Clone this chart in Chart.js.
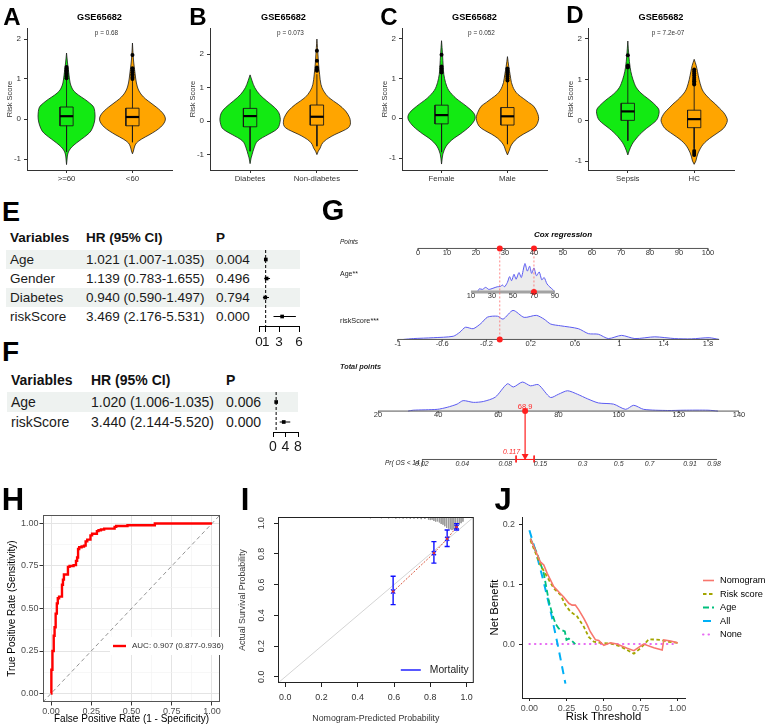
<!DOCTYPE html>
<html><head><meta charset="utf-8">
<title>Risk score figure</title>
<script src="https://cdn.jsdelivr.net/npm/chart.js@4.4.1/dist/chart.umd.min.js"></script>
<style>
html,body{margin:0;padding:0;background:#fff}
body{width:767px;height:727px;position:relative;overflow:hidden;font-family:"Liberation Sans",Arial,Helvetica,sans-serif}
canvas{position:absolute;display:block}
.t{position:absolute;white-space:nowrap;line-height:1}
.sh{position:absolute;background:#eef2f0}
</style></head><body>
<script>
// ================= DATA =================
const violinTitle = 'GSE65682';
// Panel A
const aCats = ['>=60', '<60'];
const aP = 'p = 0.68';
const aShape1 = [[-1.14,0],[-1.0,0.008],[-0.9,0.015],[-0.8,0.035],[-0.7,0.08],[-0.6,0.15],[-0.5,0.23],[-0.4,0.31],[-0.3,0.37],[-0.15,0.41],[0,0.43],[0.15,0.43],[0.3,0.41],[0.4,0.35],[0.5,0.27],[0.6,0.18],[0.7,0.11],[0.8,0.075],[0.9,0.055],[1.0,0.045],[1.2,0.03],[1.4,0.015],[1.65,0]];
const aShape2 = [[-0.87,0],[-0.8,0.015],[-0.7,0.03],[-0.6,0.06],[-0.5,0.14],[-0.4,0.25],[-0.3,0.35],[-0.2,0.43],[-0.1,0.48],[0,0.5],[0.1,0.48],[0.2,0.43],[0.3,0.36],[0.4,0.28],[0.5,0.2],[0.6,0.14],[0.7,0.1],[0.8,0.075],[0.9,0.06],[1.0,0.05],[1.2,0.035],[1.4,0.02],[1.6,0.01],[1.9,0]];
const aBox1 = [-0.82,-0.17,0.07,0.30,0.98];   // lower whisker, Q1, median, Q3, upper whisker
const aBox2 = [-0.58,-0.17,0.05,0.27,0.98];
const aOut1 = [1.02,1.06,1.1,1.14,1.18,1.22,1.26,1.3];
const aOut2 = [1.0,1.04,1.08,1.12,1.17,1.22,1.27,1.6];
// Panel B
const bCats = ['Diabetes', 'Non-diabetes'];
const bP = 'p = 0.073';
const bShape1 = [[-1.27,0],[-1.1,0.015],[-1.0,0.03],[-0.8,0.06],[-0.6,0.11],[-0.4,0.27],[-0.3,0.36],[-0.2,0.42],[0,0.45],[0.1,0.45],[0.25,0.43],[0.4,0.37],[0.6,0.25],[0.8,0.14],[1.0,0.07],[1.2,0.03],[1.38,0]];
const bShape2 = [[-1.0,0],[-0.9,0.02],[-0.8,0.05],[-0.7,0.07],[-0.6,0.11],[-0.5,0.18],[-0.4,0.27],[-0.3,0.38],[-0.2,0.47],[-0.1,0.5],[0,0.5],[0.1,0.49],[0.3,0.43],[0.5,0.32],[0.7,0.18],[0.9,0.1],[1.1,0.06],[1.4,0.04],[1.7,0.025],[2.0,0.015],[2.2,0.008],[2.45,0]];
const bBox1 = [-0.9,-0.17,0.15,0.38,0.95];
const bBox2 = [-0.75,-0.12,0.13,0.48,1.4];
const bOut1 = [];
const bOut2 = [1.5,1.55,1.6,1.8,2.1];
// Panel C
const cCats = ['Female', 'Male'];
const cP = 'p = 0.052';
const cShape1 = [[-1.15,0],[-1.0,0.01],[-0.9,0.02],[-0.8,0.04],[-0.7,0.07],[-0.6,0.12],[-0.5,0.19],[-0.4,0.28],[-0.3,0.36],[-0.2,0.43],[-0.05,0.5],[0.05,0.51],[0.15,0.48],[0.3,0.38],[0.4,0.3],[0.5,0.22],[0.6,0.16],[0.7,0.11],[0.8,0.08],[0.9,0.06],[1.1,0.035],[1.3,0.025],[1.6,0.015],[1.95,0]];
const cShape2 = [[-0.92,0],[-0.8,0.03],[-0.7,0.05],[-0.6,0.09],[-0.5,0.15],[-0.4,0.24],[-0.3,0.35],[-0.2,0.43],[-0.05,0.47],[0.05,0.47],[0.15,0.45],[0.3,0.4],[0.4,0.32],[0.5,0.24],[0.6,0.16],[0.7,0.11],[0.8,0.08],[0.9,0.06],[1.1,0.04],[1.3,0.02],[1.55,0]];
const cBox1 = [-0.85,-0.14,0.08,0.33,1.12];
const cBox2 = [-0.65,-0.17,0.05,0.27,0.92];
const cOut1 = [1.15,1.2,1.25,1.3,1.6];
const cOut2 = [0.95,1.0,1.05,1.1,1.15,1.2,1.25];
// Panel D
const dCats = ['Sepsis', 'HC'];
const dP = 'p = 7.2e-07';
const dShape1 = [[-0.85,0],[-0.75,0.02],[-0.6,0.06],[-0.5,0.1],[-0.4,0.15],[-0.3,0.21],[-0.2,0.28],[-0.1,0.36],[0,0.43],[0.1,0.46],[0.25,0.47],[0.35,0.43],[0.5,0.33],[0.6,0.25],[0.7,0.18],[0.8,0.13],[0.9,0.1],[1.1,0.06],[1.3,0.035],[1.6,0.015],[1.95,0]];
const dShape2 = [[-1.08,0],[-1.0,0.025],[-0.9,0.04],[-0.8,0.06],[-0.7,0.09],[-0.6,0.13],[-0.5,0.19],[-0.4,0.27],[-0.3,0.36],[-0.2,0.44],[-0.1,0.48],[0,0.5],[0.1,0.48],[0.2,0.44],[0.3,0.38],[0.4,0.32],[0.5,0.25],[0.6,0.19],[0.7,0.14],[0.8,0.11],[1.0,0.075],[1.2,0.05],[1.35,0.03],[1.5,0]];
const dBox1 = [-0.5,0.0,0.22,0.42,1.25];
const dBox2 = [-0.7,-0.18,0.03,0.25,0.85];
const dOut1 = [1.3,1.32,1.35,1.6];
const dOut2 = [0.88,0.92,0.96,1.0,1.05,1.1,1.15,1.2,1.25,-0.75,-0.8,-0.85];
const violinYTicks = [-1, 0, 1, 2];

// Panel E (univariate Cox)
const eHeader = ['Variables', 'HR (95% CI)', 'P'];
const eVars = ['Age', 'Gender', 'Diabetes', 'riskScore'];
const eHR = [1.021, 1.139, 0.940, 3.469];
const eLo = [1.007, 0.783, 0.590, 2.176];
const eHi = [1.035, 1.655, 1.497, 5.531];
const eP = ['0.004', '0.496', '0.794', '0.000'];
const eTicks = [0, 1, 3, 6];
// Panel F (multivariate Cox)
const fVars = ['Age', 'riskScore'];
const fHR = [1.020, 3.440];
const fLo = [1.006, 2.144];
const fHi = [1.035, 5.520];
const fP = ['0.006', '0.000'];
const fTicks = [0, 4, 8];

// Panel G (nomogram)
const nomoTitle = 'Cox regression';
const nomoPointsTicks = [0,10,20,30,40,50,60,70,80,90,100];
const nomoAgeTicks = [10,30,50,70,90];
const nomoRiskTicks = [-1,-0.6,-0.2,0.2,0.6,1,1.4,1.8];
const nomoTotalTicks = [20,40,60,80,100,120,140];
const nomoPrTicks = ['0.02','0.04','0.08','0.15','0.3','0.5','0.7','0.91','0.98'];
const nomoPrPos = [34.6,48,62.3,74,88,100,110.3,123.7,131.7];  // total points of each probability tick
const ageDens = [[16,0],[18,0.11],[21,0.09],[24,0.16],[27,0.09],[31,0.13],[35,0.18],[38,0.19],[40,0.24],[42,0.18],[44.7,0.33],[46.8,0.53],[48.7,0.39],[51,0.61],[53,0.44],[55.7,0.67],[58,0.5],[61.4,0.98],[63.7,0.72],[65.9,0.89],[67.8,0.64],[70,0.83],[72.4,0.56],[75,0.69],[77.5,0.42],[79.7,0.5],[82.4,0.28],[85.2,0.17],[87.8,0.09],[90,0]];
const riskDens = [[-0.95,0],[-0.86,0.03],[-0.68,0.06],[-0.5,0.11],[-0.44,0.25],[-0.39,0.42],[-0.32,0.37],[-0.25,0.55],[-0.19,0.77],[-0.1,0.8],[-0.05,0.7],[0.04,1.0],[0.14,0.76],[0.25,0.83],[0.32,0.7],[0.38,0.53],[0.47,0.47],[0.63,0.37],[0.72,0.2],[0.81,0.18],[0.9,0.03],[1.02,0.14],[1.14,0.03],[1.32,0.09],[1.5,0.03],[1.65,0.02],[1.81,0.06],[1.9,0]];
const totalDens = [[30,0],[31.7,0.03],[39.7,0.06],[43,0.13],[46.3,0.24],[48.3,0.36],[51.7,0.3],[55,0.33],[59,0.48],[63,0.94],[65,0.83],[68,1.0],[70.7,0.87],[73.3,0.91],[77.3,0.47],[80,0.58],[83,0.7],[86.3,0.58],[89.7,0.42],[93.3,0.28],[98.3,0.24],[102.3,0.06],[105,0.2],[108.3,0.06],[116.3,0.02],[121.7,0.03],[129.7,0.03],[133,0]];
const patientAge = 70, patientAgePts = 40.0;
const patientRisk = -0.08, patientRiskPts = 28.2;
const patientTotal = 68.9;
const patientProb = '0.117';
const patientProbCI = [65.9, 71.9];  // total points of CI ends

// Panel H (ROC)
const rocFpr = [0,0.003,0.006,0.01,0.014,0.018,0.022,0.026,0.03,0.036,0.042,0.05,0.068,0.074,0.08,0.088,0.105,0.115,0.14,0.155,0.162,0.168,0.175,0.19,0.205,0.215,0.225,0.245,0.255,0.285,0.295,0.31,0.33,0.395,0.405,0.475,0.485,0.645,0.65,1.0];
const rocTpr = [0,0.08,0.14,0.2,0.25,0.3,0.34,0.39,0.45,0.47,0.53,0.56,0.57,0.64,0.67,0.7,0.7,0.745,0.75,0.755,0.78,0.8,0.85,0.86,0.865,0.87,0.895,0.905,0.93,0.94,0.955,0.96,0.965,0.97,0.98,0.985,0.99,0.99,1.0,1.0];
const rocLabel = 'AUC: 0.907 (0.877-0.936)';
const rocTicks = [0, 0.25, 0.5, 0.75, 1];

// Panel I (calibration)
const calPred = [0.595, 0.82, 0.893, 0.945];
const calObs  = [0.555, 0.805, 0.898, 0.975];
const calLo   = [0.47, 0.74, 0.848, 0.955];
const calHi   = [0.655, 0.88, 0.955, 0.997];
const calRugX = [0.39,0.41,0.43,0.45,0.47,0.49,0.51,0.53,0.55,0.57,0.59,0.61,0.63,0.65,0.67,0.69,0.71,0.73,0.75,0.77,0.79,0.8,0.81,0.82,0.83,0.84,0.85,0.86,0.87,0.88,0.89,0.9,0.91,0.92,0.93,0.94,0.95,0.96,0.97,0.98];
const calRugH = [0.006,0.004,0.006,0.005,0.008,0.006,0.006,0.008,0.006,0.009,0.007,0.01,0.008,0.01,0.009,0.012,0.01,0.012,0.014,0.012,0.016,0.02,0.018,0.025,0.03,0.028,0.035,0.045,0.05,0.06,0.07,0.075,0.08,0.085,0.08,0.075,0.065,0.05,0.04,0.03];
const calTicks = [0, 0.2, 0.4, 0.6, 0.8, 1.0];
const calLegend = 'Mortality';

// Panel J (decision curve)
const dcaLabels = ['Nomogram', 'Risk score', 'Age', 'All', 'None'];
const dcaNomoT = [0.007,0.074,0.097,0.12,0.142,0.164,0.21,0.23,0.266,0.288,0.31,0.333,0.367,0.39,0.41,0.446,0.468,0.502,0.547,0.59,0.66,0.705,0.77,0.84,0.896,0.907,0.953,1.0];
const dcaNomoNB = [0.176,0.137,0.132,0.118,0.107,0.096,0.084,0.079,0.068,0.065,0.065,0.057,0.043,0.032,0.021,0.007,0.006,-0.002,0.002,0,-0.007,-0.011,0,-0.006,-0.01,0.007,0.005,0.002];
const dcaRiskT = [0.007,0.074,0.12,0.164,0.21,0.243,0.277,0.322,0.367,0.4,0.435,0.48,0.547,0.615,0.705,0.75,0.806,0.885,0.93,1.0];
const dcaRiskNB = [0.173,0.132,0.112,0.093,0.082,0.065,0.054,0.046,0.029,0.012,0.004,0.002,0.001,-0.004,-0.016,-0.007,0.008,0.007,0.004,0.002];
const dcaAgeT = [0.007,0.052,0.097,0.13,0.153,0.176,0.198,0.22,0.239,0.25,0.266,0.288,0.31];
const dcaAgeNB = [0.176,0.151,0.118,0.073,0.051,0.034,0.026,0.023,0.021,0.007,0.009,0.005,0];
const dcaAllT = [0,0.05,0.1,0.15,0.2,0.243];
const dcaAllNB = [0.19,0.148,0.1,0.047,-0.012,-0.066];
const dcaNoneT = [0, 1];
const dcaNoneNB = [0, 0];
const dcaXTicks = [0, 0.25, 0.5, 0.75, 1];
const dcaYTicks = [0, 0.1, 0.2];

// ================= HELPERS =================
const FONT = '"Liberation Sans", Arial, Helvetica, sans-serif';
Chart.defaults.font.family = FONT;
Chart.defaults.animation = false;
Chart.defaults.events = [];
Chart.defaults.plugins.legend.display = false;
Chart.defaults.plugins.tooltip.enabled = false;

function mkChart(l, t, w, h, config) {
  const c = document.createElement('canvas');
  c.width = w; c.height = h;
  c.style.left = l + 'px'; c.style.top = t + 'px';
  c.style.width = w + 'px'; c.style.height = h + 'px';
  document.body.appendChild(c);
  config.options = Object.assign({responsive: false, maintainAspectRatio: false, animation: false, devicePixelRatio: 1}, config.options || {});
  return new Chart(c.getContext('2d'), config);
}
function txt(s, x, y, o) {
  o = o || {};
  const d = document.createElement('div');
  d.className = 't';
  d.textContent = s;
  d.style.left = x + 'px'; d.style.top = y + 'px';
  d.style.fontSize = (o.size || 10) + 'px';
  if (o.bold) d.style.fontWeight = 'bold';
  if (o.italic) d.style.fontStyle = 'italic';
  d.style.color = o.color || '#000';
  const ax = o.align === 'l' ? '0' : (o.align === 'r' ? '-100%' : '-50%');
  d.style.transform = 'translate(' + ax + ',-50%)';
  document.body.appendChild(d);
}
function rect(x, y, w, h) {
  const d = document.createElement('div');
  d.className = 'sh';
  d.style.left = x + 'px'; d.style.top = y + 'px'; d.style.width = w + 'px'; d.style.height = h + 'px';
  document.body.appendChild(d);
}
const tickList = arr => s => { s.ticks = arr.map(v => ({value: v})); };
const segs = list => { const out = []; list.forEach(p => { out.push(p[0], p[1], {x: p[0].x, y: null}); }); return out; };

// ================= VIOLINS (A-D) =================
const VGREEN = '#12ea12', VORANGE = '#ffa500';
function violinPanel(area, cats, shapes, boxes, outs, yRange, title, pTxt) {
  const cL = area.l - 28, cT = 18, cW = area.r + 8 - cL, cH = 190 - cT;
  const ds = [];
  const cols = [VGREEN, VORANGE];
  shapes.forEach((sh, i) => {
    const c = i + 1;
    const pts = sh.map(([y, w]) => ({x: c + w, y})).concat(sh.slice().reverse().map(([y, w]) => ({x: c - w, y})));
    ds.push({data: pts, showLine: true, fill: 'shape', backgroundColor: cols[i], borderColor: '#1a1a1a', borderWidth: 0.8, pointRadius: 0, tension: 0.35, order: 5});
  });
  boxes.forEach((b, i) => {
    const c = i + 1, bw = 0.1;
    const [lo, q1, med, q3, hi] = b;
    ds.push({data: segs([[{x: c, y: q3}, {x: c, y: hi}], [{x: c, y: q1}, {x: c, y: lo}]]), showLine: true, spanGaps: false, borderColor: '#1a1a1a', borderWidth: 0.9, pointRadius: 0, order: 3});
    ds.push({data: [{x: c - bw, y: q1}, {x: c + bw, y: q1}, {x: c + bw, y: q3}, {x: c - bw, y: q3}, {x: c - bw, y: q1}], showLine: true, borderColor: '#1a1a1a', borderWidth: 0.9, pointRadius: 0, order: 3});
    ds.push({data: [{x: c - bw, y: med}, {x: c + bw, y: med}], showLine: true, borderColor: '#000', borderWidth: 2.2, pointRadius: 0, order: 2});
    ds.push({data: outs[i].map(y => ({x: c, y})), showLine: false, pointRadius: 2, backgroundColor: '#000', borderWidth: 0, order: 1});
  });
  mkChart(cL, cT, cW, cH, {
    type: 'scatter', data: {datasets: ds},
    options: {
      layout: {padding: {left: 1, top: 10, right: 8, bottom: 2}},
      scales: {
        x: {type: 'linear', min: 0.4, max: 2.6, afterBuildTicks: tickList([1, 2]),
            ticks: {callback: v => cats[Math.round(v) - 1], font: {size: 7.8}, color: '#333', padding: 1, autoSkip: false, maxRotation: 0},
            grid: {drawOnChartArea: false, tickLength: 3, color: '#333'}, border: {color: '#333', width: 1},
            afterFit: s => { s.height = 18; }},
        y: {type: 'linear', min: yRange[0], max: yRange[1], afterBuildTicks: tickList(violinYTicks),
            ticks: {font: {size: 8}, color: '#333', padding: 3},
            grid: {drawOnChartArea: false, tickLength: 3, color: '#333'}, border: {color: '#333', width: 1},
            title: {display: true, text: 'Risk Score', font: {size: 7.5}, color: '#333', padding: {top: 5, bottom: 0}},
            afterFit: s => { s.width = 27; }}
      }
    }
  });
  const cx = (area.l + area.r) / 2;
  txt(title, cx, 18, {size: 9.2, bold: true});
  txt(pTxt, cx + 7, 33, {size: 6.4, color: '#333'});
}
violinPanel({l: 27, r: 172}, aCats, [aShape1, aShape2], [aBox1, aBox2], [aOut1, aOut2], [-1.275, 2.275], violinTitle, aP);
violinPanel({l: 210, r: 357}, bCats, [bShape1, bShape2], [bBox1, bBox2], [bOut1, bOut2], [-1.46, 2.78], violinTitle, bP);
violinPanel({l: 402, r: 547}, cCats, [cShape1, cShape2], [cBox1, cBox2], [cOut1, cOut2], [-1.3, 2.27], violinTitle, cP);
violinPanel({l: 588, r: 734}, dCats, [dShape1, dShape2], [dBox1, dBox2], [dOut1, dOut2], [-1.22, 2.27], violinTitle, dP);

// ================= FOREST TABLES (E, F) =================
function forestTable(o) {
  const n = o.vars.length;
  for (let i = 0; i < n; i += 2) rect(o.shadeL, o.rowTop + i * o.rowH, o.shadeR - o.shadeL, o.rowH);
  txt(eHeader[0], o.cols[0], o.headY, {size: o.size, bold: true, align: 'l', color: '#111'});
  txt(eHeader[1], o.cols[1], o.headY, {size: o.size, bold: true, align: 'l', color: '#111'});
  txt(eHeader[2], o.cols[2], o.headY, {size: o.size, bold: true, align: 'l', color: '#111'});
  for (let i = 0; i < n; i++) {
    const y = o.rowTop + (i + 0.5) * o.rowH;
    txt(o.vars[i], o.cols[0], y, {size: o.size, align: 'l', color: '#1a1a1a'});
    txt(o.hr[i].toFixed(3) + ' (' + o.lo[i].toFixed(3) + '-' + o.hi[i].toFixed(3) + ')', o.cols[1], y, {size: o.size, align: 'l', color: '#1a1a1a'});
    txt(o.p[i], o.cols[2], y, {size: o.size, align: 'l', color: '#1a1a1a'});
  }
  const ds = [
    {data: [{x: 1, y: -0.5}, {x: 1, y: n - 0.5}], showLine: true, borderColor: '#000', borderWidth: 1, borderDash: [3, 2], pointRadius: 0},
    {data: segs(o.hr.map((v, i) => [{x: o.lo[i], y: i}, {x: o.hi[i], y: i}])), showLine: true, spanGaps: false, borderColor: '#000', borderWidth: 1, pointRadius: 0},
    {data: o.hr.map((v, i) => ({x: v, y: i})), pointStyle: 'rect', pointRadius: 2.6, backgroundColor: '#000', borderWidth: 0}
  ];
  mkChart(o.cv[0], o.cv[1], o.cv[2], o.cv[3], {
    type: 'scatter', data: {datasets: ds},
    options: {
      layout: {padding: o.pad},
      scales: {
        x: {type: 'linear', min: o.ticks[0], max: o.ticks[o.ticks.length - 1], afterBuildTicks: tickList(o.ticks),
            ticks: {font: {size: o.size}, color: '#1a1a1a', padding: 2, autoSkip: false, maxRotation: 0},
            grid: {drawOnChartArea: false, tickLength: o.tickLen, color: '#000'}, border: {color: '#000', width: 1},
            afterFit: s => { s.height = o.xH; }},
        y: {type: 'linear', display: false, min: -0.5, max: n - 0.5, reverse: true}
      }
    }
  });
}
forestTable({vars: eVars, hr: eHR, lo: eLo, hi: eHi, p: eP, ticks: eTicks, size: 13.5, cols: [10, 86, 216], headY: 238,
  rowTop: 250, rowH: 19, shadeL: 6, shadeR: 300, cv: [250, 240, 60, 115], pad: {left: 9, right: 11, top: 10, bottom: 2}, xH: 27, tickLen: 6});
forestTable({vars: fVars, hr: fHR, lo: fLo, hi: fHi, p: fP, ticks: fTicks, size: 14, cols: [11, 91, 226], headY: 380,
  rowTop: 392, rowH: 20, shadeL: 7, shadeR: 298, cv: [264, 382, 44, 76], pad: {left: 9, right: 10, top: 10, bottom: 2}, xH: 24, tickLen: 5});

// ================= NOMOGRAM (G) =================
const ROW = {points: 17, age: 62, risk: 111, total: 185, pr: 235};
const DENS_H = 30;
const mapPts = p => 33.3 + p * 0.964;
const mapAge = a => 50.9 + (a - 10) * 0.349;
const mapRisk = r => 26.6 + (r + 1) * 36.82;
const mapTot = t => t;
(function () {
  const RED = '#ff1f1f', AX = '#555';
  const dens = (arr, f, base) => ({data: arr.map(([v, d]) => ({x: f(v), y: base - d * DENS_H})), showLine: true, fill: {value: base},
    backgroundColor: '#ececec', borderColor: '#5b5bf2', borderWidth: 1, pointRadius: 0, tension: 0.25, order: 6});
  const axisLine = (a, b, base, col, w) => ({data: [{x: a, y: base}, {x: b, y: base}], showLine: true, borderColor: col, borderWidth: w, pointRadius: 0, order: 5});
  const tickMarks = (ticks, f, base) => ({data: segs(ticks.map(t => [{x: f(t), y: base}, {x: f(t), y: base + 2}])), showLine: true, spanGaps: false, borderColor: AX, borderWidth: 0.8, pointRadius: 0, order: 5});
  const ds = [
    dens(ageDens, mapAge, ROW.age), dens(riskDens, mapRisk, ROW.risk), dens(totalDens, mapTot, ROW.total),
    axisLine(mapPts(0), mapPts(100), ROW.points, AX, 1),
    axisLine(mapAge(10), mapAge(90), ROW.age, '#a3a3a3', 3),
    axisLine(mapRisk(-1), mapRisk(1.9), ROW.risk, AX, 1),
    axisLine(20, 140, ROW.total, AX, 1),
    axisLine(nomoPrPos[0], nomoPrPos[nomoPrPos.length - 1] + 1, ROW.pr, AX, 1),
    tickMarks(nomoPointsTicks, mapPts, ROW.points), tickMarks(nomoRiskTicks, mapRisk, ROW.risk), tickMarks(nomoTotalTicks, mapTot, ROW.total),
    {data: segs([[{x: mapAge(patientAge), y: ROW.points}, {x: mapAge(patientAge), y: ROW.age}], [{x: mapRisk(patientRisk), y: ROW.points}, {x: mapRisk(patientRisk), y: ROW.risk}]]),
      showLine: true, spanGaps: false, borderColor: '#ff6a6a', borderWidth: 0.8, borderDash: [2, 2], pointRadius: 0, order: 3},
    {data: [{x: patientTotal, y: ROW.total}, {x: patientTotal, y: ROW.pr}], showLine: true, borderColor: RED, borderWidth: 1.2, pointRadius: 0, order: 3},
    {data: [{x: patientProbCI[0], y: ROW.pr}, {x: patientProbCI[1], y: ROW.pr}], showLine: true, borderColor: RED, borderWidth: 1, pointRadius: 0, order: 2},
    {data: segs(patientProbCI.map(v => [{x: v, y: ROW.pr - 4}, {x: v, y: ROW.pr + 3}])), showLine: true, spanGaps: false, borderColor: RED, borderWidth: 1, pointRadius: 0, order: 2},
    {data: [{x: mapPts(patientAgePts), y: ROW.points}, {x: mapAge(patientAge), y: ROW.age}, {x: mapPts(patientRiskPts), y: ROW.points}, {x: mapRisk(patientRisk), y: ROW.risk}, {x: patientTotal, y: ROW.total}],
      pointRadius: 3, backgroundColor: RED, borderWidth: 0, order: 1},
    {data: [{x: patientTotal, y: ROW.pr - 3.5}], pointStyle: 'triangle', rotation: 180, pointRadius: 4, backgroundColor: RED, borderWidth: 0, order: 1}
  ];
  const nomoLabels = {id: 'nomoLabels', afterDatasetsDraw(chart) {
    const {ctx} = chart; const xs = chart.scales.x, ys = chart.scales.y;
    ctx.save(); ctx.fillStyle = '#333'; ctx.textAlign = 'center'; ctx.textBaseline = 'middle';
    ctx.font = '7.5px ' + FONT;
    [[nomoPointsTicks, mapPts, ROW.points], [nomoAgeTicks, mapAge, ROW.age], [nomoRiskTicks, mapRisk, ROW.risk], [nomoTotalTicks, mapTot, ROW.total]]
      .forEach(([ticks, f, base]) => ticks.forEach(t => ctx.fillText(String(t), xs.getPixelForValue(f(t)), ys.getPixelForValue(base + 4.5))));
    ctx.font = 'italic 7px ' + FONT;
    nomoPrTicks.forEach((lab, i) => ctx.fillText(lab, xs.getPixelForValue(nomoPrPos[i]), ys.getPixelForValue(ROW.pr + 4.5)));
    ctx.fillStyle = '#ff2a2a'; ctx.font = '7.5px ' + FONT;
    ctx.fillText(patientTotal.toFixed(1), xs.getPixelForValue(patientTotal), ys.getPixelForValue(ROW.total - 4.5));
    ctx.font = 'italic 7px ' + FONT; ctx.textAlign = 'right';
    ctx.fillText(patientProb, xs.getPixelForValue(patientTotal) - 5, ys.getPixelForValue(ROW.pr - 8));
    ctx.restore();
  }};
  mkChart(320, 228, 447, 250, {
    type: 'scatter', data: {datasets: ds},
    options: {layout: {padding: {left: 58, right: 28, top: 0, bottom: 0}},
      scales: {x: {type: 'linear', display: false, min: 20, max: 140}, y: {type: 'linear', display: false, min: 0, max: 250, reverse: true}}},
    plugins: [nomoLabels]
  });
  txt(nomoTitle, 563, 235, {size: 8, bold: true, italic: true});
  txt('Points', 340, 242, {size: 6.5, italic: true, align: 'l', color: '#222'});
  txt('Age**', 340, 272.5, {size: 7, align: 'l', color: '#222'});
  txt('riskScore***', 340, 321, {size: 7.3, align: 'l', color: '#222'});
  txt('Total points', 340, 367, {size: 7.3, bold: true, italic: true, align: 'l', color: '#222'});
  txt('Pr( OS < 14 )', 385, 463, {size: 6.5, italic: true, align: 'l', color: '#222'});
})();

// ================= ROC (H) =================
(function () {
  const stair = (xs, ys) => { const out = [{x: xs[0], y: ys[0]}]; for (let i = 1; i < xs.length; i++) { out.push({x: xs[i - 1], y: ys[i]}); out.push({x: xs[i], y: ys[i]}); } return out; };
  const grid = [];
  for (let i = 0; i < rocTicks.length; i++) { grid.push(rocTicks[i]); if (i < rocTicks.length - 1) grid.push((rocTicks[i] + rocTicks[i + 1]) / 2); }
  const isMajor = v => rocTicks.some(t => Math.abs(t - v) < 1e-6);
  const gridOpts = {drawOnChartArea: true, color: c => isMajor(c.tick.value) ? '#e4e4e4' : '#f2f2f2', lineWidth: c => isMajor(c.tick.value) ? 1 : 0.6,
    tickColor: c => isMajor(c.tick.value) ? '#333' : 'rgba(0,0,0,0)', tickLength: 3.5};
  const tickOpts = {callback: v => isMajor(v) ? v.toFixed(2) : '', font: {size: 9}, color: '#4d4d4d', padding: 1, autoSkip: false, maxRotation: 0};
  const border = {id: 'rocBorder', afterDatasetsDraw(chart) { const {ctx, chartArea: a} = chart; ctx.save(); ctx.strokeStyle = '#555'; ctx.lineWidth = 1; ctx.strokeRect(a.left + 0.5, a.top + 0.5, a.right - a.left - 1, a.bottom - a.top - 1); ctx.restore(); }};
  const legend = {id: 'rocLegend', afterDraw(chart) {
    const {ctx, chartArea: a} = chart; const x0 = a.left + 67, y0 = a.top + 122, w = 113, h = 18;
    ctx.save(); ctx.fillStyle = '#fff'; ctx.fillRect(x0, y0, w, h);
    ctx.strokeStyle = '#ff0000'; ctx.lineWidth = 2.4; ctx.beginPath(); ctx.moveTo(x0 + 3, y0 + h / 2); ctx.lineTo(x0 + 16, y0 + h / 2); ctx.stroke();
    ctx.fillStyle = '#333'; ctx.font = '8px ' + FONT; ctx.textBaseline = 'middle'; ctx.textAlign = 'left'; ctx.fillText(rocLabel, x0 + 22, y0 + h / 2);
    ctx.restore();
  }};
  mkChart(0, 505, 232, 222, {
    type: 'scatter',
    data: {datasets: [
      {data: [{x: -0.05, y: -0.05}, {x: 1.05, y: 1.05}], showLine: true, borderColor: '#777', borderWidth: 0.8, borderDash: [4, 3], pointRadius: 0, order: 2},
      {data: stair(rocFpr, rocTpr), showLine: true, borderColor: '#ff0000', borderWidth: 2.4, pointRadius: 0, order: 1}
    ]},
    options: {
      layout: {padding: {left: 0, top: 10, right: 12, bottom: 0}},
      scales: {
        x: {type: 'linear', min: -0.05, max: 1.05, afterBuildTicks: tickList(grid), ticks: tickOpts, grid: gridOpts, border: {display: false},
            title: {display: true, text: 'False Positive Rate (1 - Specificity)', font: {size: 10}, color: '#000', padding: {top: 0, bottom: 2}},
            afterFit: s => { s.height = 25; }},
        y: {type: 'linear', min: -0.05, max: 1.05, afterBuildTicks: tickList(grid), ticks: tickOpts, grid: gridOpts, border: {display: false},
            title: {display: true, text: 'True Positive Rate (Sensitivity)', font: {size: 10}, color: '#000', padding: {top: 6, bottom: 0}},
            afterFit: s => { s.width = 43; }}
      }
    },
    plugins: [border, legend]
  });
})();

// ================= CALIBRATION (I) =================
(function () {
  const BLUE = '#1010ff';
  const capW = 0.014;
  const ds = [
    {data: [{x: -0.04, y: -0.04}, {x: 1.04, y: 1.04}], showLine: true, borderColor: '#d4d4d4', borderWidth: 1, pointRadius: 0, order: 6},
    {data: segs(calRugX.map((x, i) => [{x, y: 1.04}, {x, y: 1.04 - calRugH[i]}])), showLine: true, spanGaps: false, borderColor: '#9a9a9a', borderWidth: 1, pointRadius: 0, order: 5},
    {data: calPred.map((x, i) => ({x, y: calObs[i]})), showLine: true, borderColor: '#d9583f', borderWidth: 1, borderDash: [2, 1.5], pointRadius: 0, order: 4},
    {data: segs(calPred.flatMap((x, i) => [[{x, y: calLo[i]}, {x, y: calHi[i]}], [{x: x - capW, y: calLo[i]}, {x: x + capW, y: calLo[i]}], [{x: x - capW, y: calHi[i]}, {x: x + capW, y: calHi[i]}]])),
      showLine: true, spanGaps: false, borderColor: BLUE, borderWidth: 1.4, pointRadius: 0, order: 3},
    {data: calPred.map((x, i) => ({x, y: calObs[i]})), pointStyle: 'crossRot', pointRadius: 3, borderColor: BLUE, borderWidth: 1.2, order: 2},
    {data: calPred.map((x, i) => ({x, y: calObs[i]})), pointRadius: 1.3, backgroundColor: '#e03030', borderWidth: 0, order: 1}
  ];
  const extras = {id: 'calExtras', afterDraw(chart) {
    const {ctx, chartArea: a, scales: {y}} = chart;
    ctx.save();
    ctx.strokeStyle = '#222'; ctx.lineWidth = 1; ctx.strokeRect(a.left + 0.5, a.top + 0.5, a.right - a.left - 1, a.bottom - a.top - 1);
    ctx.fillStyle = '#333'; ctx.font = '8.9px ' + FONT; ctx.textAlign = 'center'; ctx.textBaseline = 'middle';
    calTicks.forEach(v => { const py = y.getPixelForValue(v); ctx.save(); ctx.translate(a.left - 16, py); ctx.rotate(-Math.PI / 2); ctx.fillText(v.toFixed(1), 0, 0); ctx.restore(); });
    const ly = a.bottom - 13;
    ctx.strokeStyle = BLUE; ctx.lineWidth = 1.4; ctx.beginPath(); ctx.moveTo(a.right - 73, ly); ctx.lineTo(a.right - 53, ly); ctx.stroke();
    ctx.fillStyle = '#222'; ctx.font = '10.3px ' + FONT; ctx.textAlign = 'left'; ctx.fillText(calLegend, a.right - 44, ly);
    ctx.restore();
  }};
  mkChart(236, 507, 243, 220, {
    type: 'scatter', data: {datasets: ds},
    options: {
      layout: {padding: {left: 0, top: 10, right: 4, bottom: 0}},
      scales: {
        x: {type: 'linear', min: -0.04, max: 1.04, afterBuildTicks: tickList(calTicks),
            ticks: {callback: v => v.toFixed(1), font: {size: 8.9}, color: '#333', padding: 5, autoSkip: false, maxRotation: 0},
            grid: {drawOnChartArea: false, tickLength: 4, color: '#222'}, border: {display: false},
            title: {display: true, text: 'Nomogram-Predicted Probability', font: {size: 8.8}, color: '#333', padding: {top: 0, bottom: 3}},
            afterFit: s => { s.height = 44; }},
        y: {type: 'linear', min: -0.04, max: 1.04, afterBuildTicks: tickList(calTicks),
            ticks: {display: false},
            grid: {drawOnChartArea: false, tickLength: 4, color: '#222'}, border: {display: false},
            title: {display: true, text: 'Actual Survival Probability', font: {size: 8.8}, color: '#333', padding: {top: 1, bottom: 0}},
            afterFit: s => { s.width = 42; }}
      }
    },
    plugins: [extras]
  });
})();

// ================= DECISION CURVE (J) =================
(function () {
  const line = (label, xs, ys, color, dash, w, cap) => ({label, data: xs.map((x, i) => ({x, y: ys[i]})), showLine: true, borderColor: color, borderWidth: w, borderDash: dash, borderCapStyle: cap || 'butt', pointRadius: 0});
  const ds = [
    line(dcaLabels[0], dcaNomoT, dcaNomoNB, '#f8766d', [], 1.6),
    line(dcaLabels[1], dcaRiskT, dcaRiskNB, '#a3a500', [3.5, 2.5], 1.8),
    line(dcaLabels[2], dcaAgeT, dcaAgeNB, '#00bf7d', [6, 3], 1.8),
    line(dcaLabels[3], dcaAllT, dcaAllNB, '#00b0f6', [8, 6], 2),
    line(dcaLabels[4], dcaNoneT, dcaNoneNB, '#e76bf3', [0.5, 5], 2, 'round')
  ];
  const legend = {id: 'dcaLegend', afterDraw(chart) {
    const {ctx, chartArea: a} = chart; const cy = (a.top + a.bottom) / 2, step = 13.5;
    chart.data.datasets.forEach((d, i) => {
      const y = cy + (i - 2) * step;
      ctx.save(); ctx.strokeStyle = d.borderColor; ctx.lineWidth = d.borderWidth; ctx.setLineDash(d.borderDash || []); ctx.lineCap = d.borderCapStyle;
      ctx.beginPath(); ctx.moveTo(a.right + 18, y); ctx.lineTo(a.right + 29, y); ctx.stroke();
      ctx.fillStyle = '#000'; ctx.font = '9.2px ' + FONT; ctx.textBaseline = 'middle'; ctx.textAlign = 'left';
      ctx.fillText(d.label, a.right + 35, y);
      ctx.restore();
    });
  }};
  mkChart(486, 507, 281, 220, {
    type: 'scatter', data: {datasets: ds},
    options: {
      layout: {padding: {left: 0, top: 10, right: 82, bottom: 0}},
      scales: {
        x: {type: 'linear', min: -0.05, max: 1.05, afterBuildTicks: tickList(dcaXTicks),
            ticks: {callback: v => v.toFixed(2), font: {size: 8.9}, color: '#4d4d4d', padding: 2, autoSkip: false, maxRotation: 0},
            grid: {drawOnChartArea: false, tickLength: 3, color: '#222'}, border: {color: '#222', width: 1},
            title: {display: true, text: 'Risk Threshold', font: {size: 11.3}, color: '#000', padding: {top: 0, bottom: 3}},
            afterFit: s => { s.height = 29; }},
        y: {type: 'linear', min: -0.09, max: 0.212, afterBuildTicks: tickList(dcaYTicks),
            ticks: {callback: v => v.toFixed(1), font: {size: 8.9}, color: '#4d4d4d', padding: 4},
            grid: {drawOnChartArea: false, tickLength: 3, color: '#222'}, border: {color: '#222', width: 1},
            title: {display: true, text: 'Net Benefit', font: {size: 11.3}, color: '#000', padding: {top: 2, bottom: 0}},
            afterFit: s => { s.width = 36; }}
      }
    },
    plugins: [legend]
  });
})();

// ================= PANEL LETTERS =================
[['A', 12, 16.5, 24], ['B', 198, 16.5, 24], ['C', 389, 16.5, 24], ['D', 575, 15, 24],
 ['E', 11, 212, 27], ['F', 10.5, 352, 28], ['G', 333, 210, 29],
 ['H', 13, 498.5, 31], ['I', 245, 499, 31], ['J', 503, 499, 31]]
  .forEach(([s, x, y, sz]) => txt(s, x, y, {size: sz, bold: true}));
</script>
</body></html>
